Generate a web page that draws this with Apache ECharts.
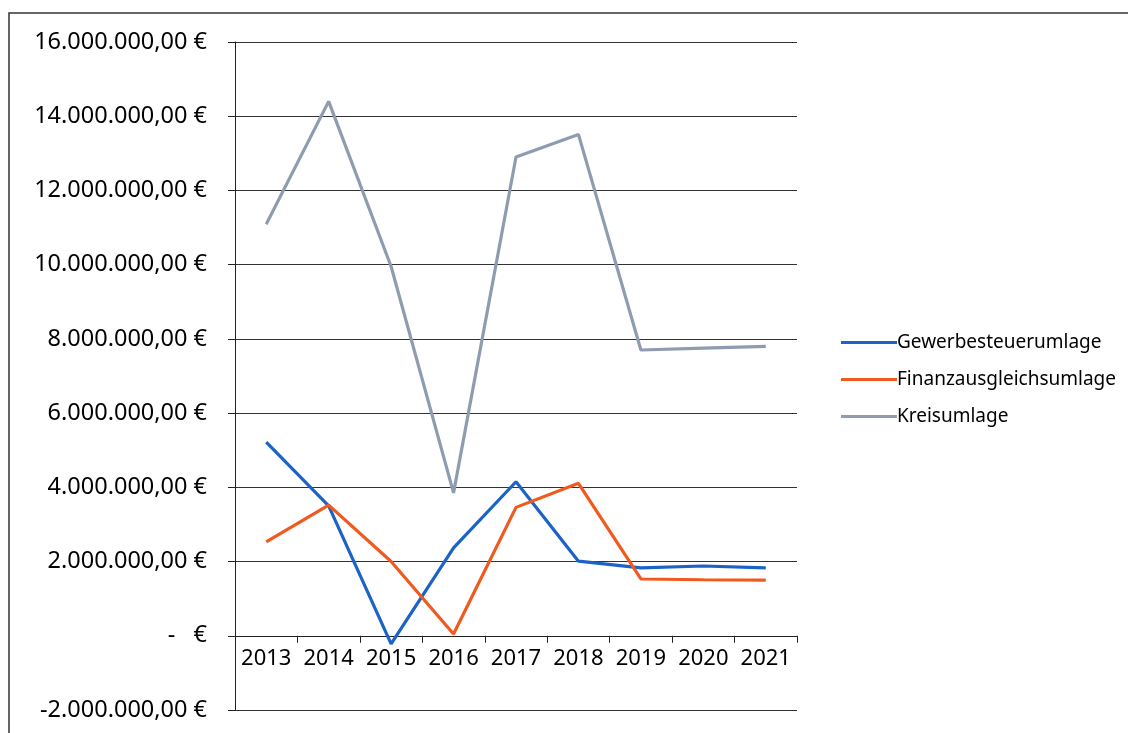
<!DOCTYPE html>
<html><head><meta charset="utf-8">
<script src="https://cdn.jsdelivr.net/npm/echarts@6/dist/echarts.min.js"></script>
<style>html,body{margin:0;padding:0;background:#fff}#c{width:1128px;height:733px}</style>
</head><body><div id="c"></div>
<script>
const categories = ['2013','2014','2015','2016','2017','2018','2019','2020','2021'];
const gewerbesteuerumlage = [5220000, 3500000, -220000, 2370000, 4150000, 2010000, 1830000, 1880000, 1830000];
const finanzausgleichsumlage = [2530000, 3520000, 2000000, 50000, 3460000, 4110000, 1530000, 1510000, 1500000];
const kreisumlage = [11090000, 14400000, 9950000, 3850000, 12900000, 13510000, 7700000, 7750000, 7800000];
const seriesNames = ['Gewerbesteuerumlage','Finanzausgleichsumlage','Kreisumlage'];
const colors = ['#1b63c6','#f05a1e','#8f9cb0'];

function fmt(v){
  if (v === 0) return '-   €';
  const neg = v < 0; const a = Math.abs(v);
  const s = a.toFixed(0).replace(/\B(?=(\d{3})+(?!\d))/g, '.');
  return (neg?'-':'') + s + ',00 €';
}
const chart = echarts.init(document.getElementById('c'));
const font = 'Noto Sans';
const gridTop = 42, gridBottom = 23;
const plotH = 733 - gridTop - gridBottom;
const zeroOffset = -plotH * (0 - (-2000000)) / (16000000 - (-2000000));
chart.setOption({
  animation:false,
  grid:{left:235,right:331,top:gridTop,bottom:gridBottom},
  xAxis:{type:'category',data:categories,boundaryGap:true,position:'bottom',offset:zeroOffset,
    axisLine:{onZero:false,lineStyle:{color:'#222',width:1}},
    axisTick:{show:true,interval:0,length:7,lineStyle:{color:'#222'}},
    axisLabel:{color:'#000',fontFamily:font,fontSize:22,margin:12,interval:0,hideOverlap:false},
    splitLine:{show:false}},
  yAxis:{type:'value',min:-2000000,max:16000000,interval:2000000,
    axisLine:{show:true,lineStyle:{color:'#222'}},
    axisTick:{show:true,length:7,lineStyle:{color:'#222'}},
    axisLabel:{color:'#000',fontFamily:font,fontSize:23.5,margin:28,formatter:fmt},
    splitLine:{show:true,lineStyle:{color:'#333',width:1.2}}},
  legend:{orient:'vertical',left:836,top:328,itemGap:18,itemWidth:56,itemHeight:3,
    icon:'rect',textStyle:{fontFamily:font,fontSize:19,color:'#000',padding:[0,0,0,-5]},
    data:seriesNames},
  series:[
    {name:seriesNames[0],type:'line',data:gewerbesteuerumlage,symbol:'none',lineStyle:{width:3.2,color:colors[0]},itemStyle:{color:colors[0]}},
    {name:seriesNames[1],type:'line',data:finanzausgleichsumlage,symbol:'none',lineStyle:{width:3.2,color:colors[1]},itemStyle:{color:colors[1]}},
    {name:seriesNames[2],type:'line',data:kreisumlage,symbol:'none',lineStyle:{width:3.2,color:colors[2]},itemStyle:{color:colors[2]}}
  ],
  graphic:[{type:'polyline',shape:{points:[[9,733],[9,13],[1128,13]]},style:{stroke:'#333',lineWidth:1.5,fill:null}}]
});
</script></body></html>
